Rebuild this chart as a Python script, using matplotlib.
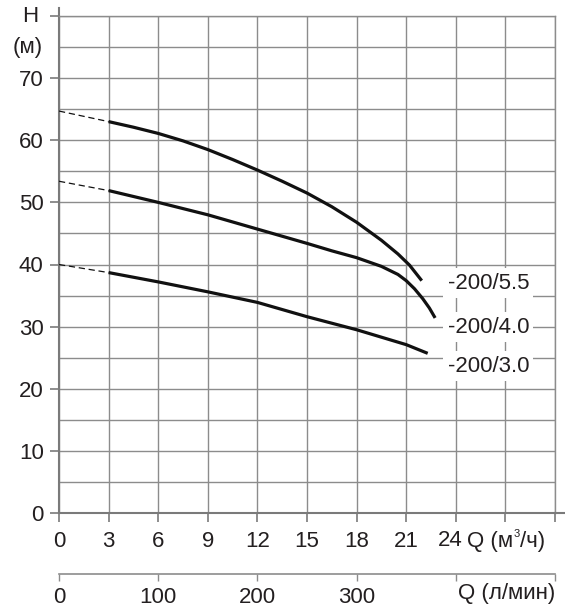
import matplotlib
matplotlib.use("Agg")
import matplotlib.pyplot as plt

plt.rcParams["font.family"] = ["Liberation Sans", "DejaVu Sans"]

# ── Data ─────────────────────────────────────────────────────────────────────
q_55 = [3, 4.5, 6, 7.5, 9, 10.5, 12, 13.5, 15, 16.5, 18, 19.5, 20.5, 21.2, 21.94]
h_55 = [63.0, 62.1, 61.1, 59.9, 58.5, 56.9, 55.2, 53.4, 51.5, 49.3, 46.8,
        43.9, 41.7, 39.9, 37.4]
q_40 = [3, 6, 9, 12, 15, 16.5, 18, 19.5, 20.5, 21, 21.5, 22, 22.4, 22.75]
h_40 = [51.9, 50.0, 48.0, 45.7, 43.4, 42.2, 41.1, 39.7, 38.4, 37.4, 36.1,
        34.5, 33.0, 31.4]
q_30 = [3, 6, 9, 12, 15, 18, 21, 22.3]
h_30 = [38.7, 37.2, 35.6, 33.9, 31.6, 29.5, 27.1, 25.7]

# dashed extrapolation to Q = 0
dash_q = [0, 3]
dash_55 = [64.7, 63.0]
dash_40 = [53.4, 51.9]
dash_30 = [40.0, 38.7]

curve_labels = ["-200/5.5", "-200/4.0", "-200/3.0"]
label_h = [37.0, 29.9, 23.6]

x_ticks = [0, 3, 6, 9, 12, 15, 18, 21, 24, 27, 30]
x_ticklabels = ["0", "3", "6", "9", "12", "15", "18", "21", "", "", ""]
y_ticks = [0, 10, 20, 30, 40, 50, 60, 70, 80]
y_ticklabels = ["0", "10", "20", "30", "40", "50", "60", "70", ""]
lmin_ticks = [0, 100, 200, 300, 400, 500]
lmin_ticklabels = ["0", "100", "200", "300", "", ""]

# ── Style ────────────────────────────────────────────────────────────────────
GRID = "#8c8c8c"
AXC = "#7a7a7a"
TXT = "#231f20"
FS = 16
W, H = 565, 608

fig = plt.figure(figsize=(5.65, 6.08), dpi=100)
fig.patch.set_facecolor("white")

ax = fig.add_axes([59 / W, 95 / H, 496 / W, 497 / H])
ax.set_xlim(0, 30)
ax.set_ylim(0, 80)

ax.set_xticks(x_ticks)
ax.set_xticklabels(x_ticklabels)
ax.set_yticks(y_ticks)
ax.set_yticklabels(y_ticklabels)
ax.set_yticks(range(0, 81, 5), minor=True)
ax.tick_params(axis="y", which="minor", length=0)
ax.tick_params(axis="both", which="major", direction="out", length=6.5,
               width=1.2, color=AXC, labelsize=FS, labelcolor=TXT)
ax.tick_params(axis="y", pad=4.5)
ax.tick_params(axis="x", pad=6.5)
ax.grid(True, which="both", color=GRID, lw=1.0, zorder=0)
ax.set_axisbelow(True)

for side in ("top", "right"):
    ax.spines[side].set_color(GRID)
    ax.spines[side].set_linewidth(1.0)
for side in ("left", "bottom"):
    ax.spines[side].set_color(AXC)
    ax.spines[side].set_linewidth(1.5)
ax.plot([0, 0], [80, 81.3], color=AXC, lw=1.5, clip_on=False)
ax.plot([30, 30.6], [0, 0], color=AXC, lw=1.5, clip_on=False)

# curves
for q, h in [(q_55, h_55), (q_40, h_40), (q_30, h_30)]:
    ax.plot(q, h, color="#111111", lw=2.3, solid_capstyle="butt",
            solid_joinstyle="round", zorder=3)
for d in (dash_55, dash_40, dash_30):
    ax.plot(dash_q, d, color="#111111", lw=0.9, dashes=(5, 3), zorder=3)

for txt, hy in zip(curve_labels, label_h):
    ax.text(23.5, hy, txt, ha="left", va="center", fontsize=FS, color=TXT,
            zorder=4,
            bbox=dict(boxstyle="square,pad=0.2", fc="white", ec="none"))

# axis titles
ax.text(-1.75, 80, "H", ha="center", va="center", fontsize=FS, color=TXT,
        clip_on=False)
ax.text(-1.9, 75, "(м)", ha="center", va="center", fontsize=FS, color=TXT,
        clip_on=False)

# "24" sits a little left of its tick, next to the Q axis title
YQ = (H - 541) / H
fig.text(450 / W, YQ, "24", ha="center", va="center", fontsize=FS, color=TXT)
r = fig.canvas.get_renderer()
t1 = fig.text(467 / W, YQ, "Q (м", ha="left", va="center", fontsize=FS,
              color=TXT)
x1 = t1.get_window_extent(r).x1
t2 = fig.text((x1 + 0.5) / W, YQ + 7 / H, "3", ha="left", va="center",
              fontsize=8, color=TXT)
x2 = t2.get_window_extent(r).x1
fig.text((x2 + 0.3) / W, YQ, "/ч)", ha="left", va="center", fontsize=FS,
         color=TXT)

# ── Second scale: л/мин ─────────────────────────────────────────────────────
ax2 = fig.add_axes([59 / W, (H - 573.5) / H, 496 / W, 0.0001])
ax2.set_xlim(0, 500)
ax2.set_yticks([])
ax2.set_xticks(lmin_ticks)
ax2.set_xticklabels(lmin_ticklabels)
ax2.patch.set_alpha(0)
for side in ("left", "right", "top"):
    ax2.spines[side].set_visible(False)
ax2.spines["bottom"].set_color(GRID)
ax2.spines["bottom"].set_linewidth(1.2)
ax2.tick_params(axis="x", direction="out", length=5, width=1.0, color=GRID,
                labelsize=FS, labelcolor=TXT, pad=5)
fig.text(458 / W, (H - 594) / H, "Q (л/мин)", ha="left", va="center",
         fontsize=FS, color=TXT)

fig.savefig("out.png", dpi=100, facecolor="white")
